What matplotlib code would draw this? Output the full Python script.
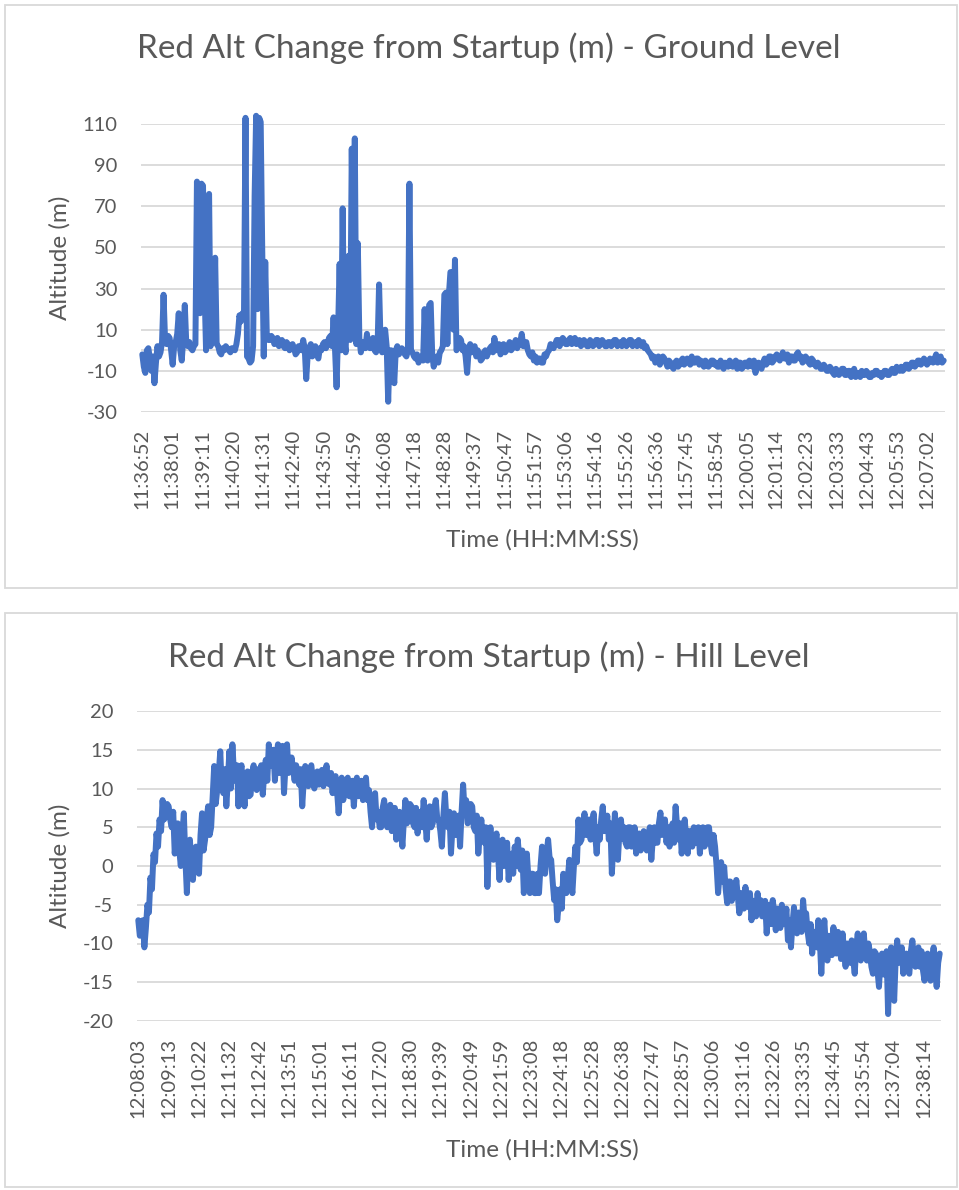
import matplotlib
matplotlib.use("Agg")
import matplotlib.pyplot as plt
import numpy as np
from matplotlib.patches import Rectangle

# Altitude readings sampled every 3.5 s
SAMPLE_STEP_S = 3.5

ground_title = "Red Alt Change from Startup (m) - Ground Level"
ground_start = "11:36:52"
ground_alt = [
    -2, -8, -11, 0, 1, -4, -10, -3, -16, -6,
    2, -3, -1, 4, 27, 5, 3, 7, 6, 0,
    -7, 2, 4, 8, 18, 0, -5, 6, 22, 3,
    2, 4, 1, 0, 2, 3, 82, 40, 18, 81,
    80, 30, 0, 70, 76, 2, 5, 6, 45, 3,
    2, -1, -2, 1, 0, 2, 1, 0, -1, 1,
    1, 0, 3, 8, 17, 14, 18, 18, 113, -3,
    -4, -6, -5, 2, 75, 114, 20, 113, 111, 50,
    -3, 43, 8, 5, 5, 7, 6, 3, 4, 6,
    2, 4, 5, 2, 1, 4, 3, 0, 1, 3,
    1, -2, -1, 2, 2, 0, 5, 1, -14, -2,
    1, 3, -3, 0, 2, -2, -4, 1, 0, 3,
    4, 1, 3, 6, 7, 2, 16, 0, -18, 10,
    42, 0, 69, 5, -1, 40, 46, 5, 98, 30,
    103, 3, 52, 6, -1, 3, 4, 1, 8, 2,
    1, 4, 6, 0, -1, 2, 32, 3, -1, 9,
    10, 2, -25, 0, 0, -5, -16, 0, 2, -2,
    -1, 1, 0, -2, -3, 0, 81, 0, -1, -3,
    -4, -2, -6, -4, -3, -5, 20, -4, -5, 22,
    23, -2, -8, -4, -3, -6, -1, 0, 2, 27,
    28, 3, 27, 38, 38, 10, 44, 0, 2, 6,
    5, 0, 2, -3, -11, 0, 3, -1, 0, 2,
    -3, 0, -2, -5, -4, -1, 0, -3, -1, 1,
    2, -1, 6, 0, 1, 3, -2, 0, 3, -1,
    0, 2, 4, 0, 1, 3, 5, 1, 3, 4,
    8, 2, 2, 4, 0, -2, -3, -1, -5, -3,
    -6, -4, -4, -6, -6, -2, -3, -1, 0, 3,
    2, 1, 3, 5, 5, 2, 4, 6, 5, 3,
    3, 5, 6, 3, 4, 6, 3, 4, 5, 2,
    3, 5, 4, 2, 2, 5, 4, 2, 3, 5,
    5, 2, 3, 5, 4, 2, 2, 4, 4, 2,
    3, 5, 5, 2, 3, 4, 2, 5, 4, 2,
    3, 5, 5, 2, 3, 4, 2, 5, 3, 2,
    4, 1, 2, 0, -1, -2, -4, -3, -6, -4,
    -3, -7, -5, -3, -4, -6, -8, -5, -6, -8,
    -9, -6, -5, -8, -7, -5, -4, -7, -6, -4,
    -5, -7, -3, -6, -6, -4, -4, -7, -5, -6,
    -8, -5, -6, -8, -7, -5, -5, -7, -6, -8,
    -8, -5, -7, -9, -6, -7, -8, -5, -6, -8,
    -7, -5, -9, -6, -6, -9, -8, -6, -6, -8,
    -5, -7, -8, -5, -11, -7, -6, -8, -9, -6,
    -4, -7, -6, -3, -3, -6, -5, -3, -2, -4,
    -5, -3, -1, -4, -4, -2, -6, -3, -3, -5,
    -5, -2, -1, -4, -3, -6, -5, -3, -4, -6,
    -7, -4, -5, -7, -8, -6, -7, -9, -9, -7,
    -8, -10, -10, -8, -9, -11, -12, -9, -10, -12,
    -11, -9, -9, -12, -12, -10, -10, -13, -11, -9,
    -13, -11, -11, -13, -10, -12, -12, -10, -11, -13,
    -13, -11, -12, -10, -10, -12, -11, -13, -12, -10,
    -10, -12, -12, -10, -9, -11, -11, -8, -9, -10,
    -8, -10, -9, -7, -7, -9, -8, -6, -6, -8,
    -7, -5, -5, -7, -6, -4, -5, -7, -6, -4,
    -5, -6, -4, -2, -6, -4, -3, -6, -5,
]
ground_ticks = [
    "11:36:52", "11:38:01", "11:39:11", "11:40:20", "11:41:31", "11:42:40",
    "11:43:50", "11:44:59", "11:46:08", "11:47:18", "11:48:28", "11:49:37",
    "11:50:47", "11:51:57", "11:53:06", "11:54:16", "11:55:26", "11:56:36",
    "11:57:45", "11:58:54", "12:00:05", "12:01:14", "12:02:23", "12:03:33",
    "12:04:43", "12:05:53", "12:07:02",
]
ground_yticks = [-30, -10, 10, 30, 50, 70, 90, 110]

hill_title = "Red Alt Change from Startup (m) - Hill Level"
hill_start = "12:08:03"
hill_alt = [
    -7, -9, -8.5, -7, -10.5, -8, -5, -6, -1.5, -3,
    1.5, 0.5, 4.2, 2.5, 6, 4.5, 8.5, 6, 6.5, 8,
    7.7, 6, 5, 7, 1.6, 4, 5.5, 2, 0, 4,
    6.8, 1, -3.5, 2, 3.4, 0, -1.8, 1.6, 2.5, -0.5,
    -1, 4, 6.8, 2, 3.4, 6, 7.7, 4, 5, 9,
    12.9, 8, 9.8, 12, 14.8, 10, 9.4, 12.5, 7.7, 11,
    14.8, 10, 15.7, 12, 11, 13, 7.7, 12, 13, 10,
    7.7, 11, 12.2, 9, 9.2, 12, 13, 10.5, 9.8, 12.5,
    11, 13, 9.2, 12, 13.7, 11, 15.7, 13, 12.9, 15,
    11, 14, 15.7, 12, 12.9, 15.5, 9.4, 13, 15.7, 12,
    12.4, 14, 12.4, 11, 13, 11.5, 10.5, 12.5, 7.7, 11,
    12.9, 11, 10.3, 12.5, 13, 11, 10, 12, 12.2, 10.5,
    11, 12.4, 10.3, 11.5, 13, 11, 10.5, 12, 9.4, 11.5,
    11.6, 9.5, 6.8, 10, 11.4, 8.5, 9.5, 11, 11.4, 9,
    9, 11, 7.7, 10.5, 11.4, 9, 9.5, 11, 8.5, 10,
    11.4, 8.5, 9.8, 7, 5, 8, 9.4, 6, 7, 5,
    5, 7.5, 8.5, 6, 5, 7, 7.9, 4.5, 6, 7.5,
    3.4, 6.5, 7, 5, 2.5, 6, 8.5, 5.5, 6, 8,
    7.7, 5.5, 5, 7.5, 4.2, 6, 7, 5, 8.5, 6,
    3.4, 6.5, 7.7, 5, 5.5, 7.5, 8.5, 6, 6, 4.5,
    2.5, 6.5, 9.4, 6, 5, 7, 1.6, 5, 6.8, 4,
    4, 6.5, 2.5, 7, 10.5, 7, 8.5, 5.5, 6, 8,
    7.7, 5, 4.5, 6.5, 1.6, 4, 6, 3.5, 3, 5,
    -2.7, 2, 5, 2, 0.8, 3, 4.2, 1.5, -1.8, 2,
    3.4, 0, 1, 3, -1.8, 1, 1.6, -1, 2.5, 0,
    3.4, 1, -0.5, 2, -3.5, 0, 1.6, -1.5, -3.5, -1,
    -1, -3.5, -3.5, -1, -3.5, 0, 2.5, 0, -1, 1.6,
    3.4, 1, 0.8, -2, -4.4, -3, -7, -5, -3, -5.5,
    -1, -3, -3.5, -1.5, 0.8, -2, -3.5, 0, 2.5, 0.5,
    6, 3, 3.4, 5.5, 6.8, 4, 4, 6, 3.4, 5.5,
    6.8, 4, 1.6, 5, 3.4, 6, 7.7, 4.5, 5, 6.5,
    3.4, 5.5, -1, 3, 6.8, 3.5, 0.8, 4.5, 6, 3.5,
    5, 3, 2.5, 5, 5, 2.5, 3, 5, 1.6, 3.5,
    4.2, 2, 2.5, 4.5, 4.2, 2, 3.5, 5, 0.8, 3.5,
    5, 3, 3, 5.5, 6.9, 4, 5, 6, 3, 5,
    2.5, 4.5, 5.5, 3, 7.7, 5, 3.4, 5.5, 1.6, 4,
    6, 3.5, 1.6, 4.5, 4.5, 2.5, 5, 3, 3, 5,
    1.6, 4.5, 5, 2.5, 3, 5, 5, 3, 1.6, 4,
    2.5, 0, -3.5, -1, 0.5, -2, -0.1, -3, -4.8, -2,
    -2, -4.5, -2.7, -4, -1.8, -4, -6.1, -3.5, -3.5, -5.5,
    -2.7, -4.5, -5.3, -3.5, -7, -4.5, -4.5, -6.5, -3.5, -5.5,
    -4.4, -6.5, -6, -4.5, -8.7, -5.5, -5, -7.5, -4.4, -6,
    -8.3, -5.5, -6, -8, -5, -6.5, -7.5, -5.5, -9.6, -7,
    -10.5, -7.5, -5.3, -8, -8.7, -6, -6.5, -8.5, -4.4, -7,
    -6.1, -8.5, -10, -7.5, -11.3, -8.5, -8.5, -10.5, -7, -9.5,
    -13.9, -9.5, -7, -10.5, -12.2, -9, -9.5, -11.5, -7.9, -10.5,
    -11.3, -8.5, -9.5, -12, -8.7, -11, -13, -10, -10.5, -12.5,
    -9.6, -12, -13.9, -10.5, -8.7, -11.5, -12.2, -10, -8.7, -11.5,
    -12.2, -10, -11, -13, -13.9, -11, -11.3, -13.5, -15.6, -12,
    -11.3, -14, -13, -11, -19.1, -12.5, -10.5, -14, -17.4, -12,
    -9.6, -12.5, -12.2, -10.5, -13.9, -11.5, -11.3, -13.5, -13.9, -11,
    -9.6, -12, -13, -11, -10.5, -13, -11, -13.5, -14.8, -12,
    -11.3, -13.5, -14.8, -12, -10.5, -13, -15.6, -12.5, -11.3,
]
hill_ticks = [
    "12:08:03", "12:09:13", "12:10:22", "12:11:32", "12:12:42", "12:13:51",
    "12:15:01", "12:16:11", "12:17:20", "12:18:30", "12:19:39", "12:20:49",
    "12:21:59", "12:23:08", "12:24:18", "12:25:28", "12:26:38", "12:27:47",
    "12:28:57", "12:30:06", "12:31:16", "12:32:26", "12:33:35", "12:34:45",
    "12:35:54", "12:37:04", "12:38:14",
]
hill_yticks = [-20, -15, -10, -5, 0, 5, 10, 15, 20]

LINE_COLOR = "#4472C4"
TEXT_COLOR = "#595959"
GRID_COLOR = "#D9D9D9"
FONT = ["Lato", "DejaVu Sans"]

W, H = 959, 1190
plt.rcParams["font.family"] = FONT


def to_seconds(hms):
    h, m, s = (int(p) for p in hms.split(":"))
    return h * 3600 + m * 60 + s


def fx(px):
    return px / W


def fy(py):
    return 1 - py / H


def draw_panel(fig, frame, axbox, title, title_y, start, alt, ticks, yticks,
               ylab_y, xlab_y, draw_zero):
    x0, y0, x1, y1 = frame
    fig.add_artist(Rectangle((fx(x0), fy(y1)), fx(x1 - x0), (y1 - y0) / H,
                             transform=fig.transFigure, fill=False,
                             ec=GRID_COLOR, lw=1.3))
    l, t, r, b = axbox
    ax = fig.add_axes([fx(l), fy(b), fx(r - l), (b - t) / H])

    t0 = to_seconds(start)
    secs = np.arange(len(alt)) * SAMPLE_STEP_S
    ax.plot(secs, alt, color=LINE_COLOR, lw=4.3, solid_joinstyle="round",
            solid_capstyle="round", clip_on=False, zorder=3)

    ax.set_xlim(-3, secs[-1] + 3)
    ax.set_ylim(yticks[0], yticks[-1])
    ax.set_yticks(yticks)
    ax.set_yticklabels([str(v) for v in yticks])
    ax.set_xticks([to_seconds(s) - t0 for s in ticks])
    ax.set_xticklabels(ticks, rotation=90, va="top", ha="center")
    ax.tick_params(axis="both", length=0, colors=TEXT_COLOR, labelsize=14.5)
    ax.tick_params(axis="y", pad=17)
    ax.tick_params(axis="x", pad=12)
    for sp in ax.spines.values():
        sp.set_visible(False)
    ax.grid(axis="y", color=GRID_COLOR, lw=1.3, zorder=0)
    ax.set_axisbelow(True)
    if draw_zero:
        ax.axhline(0, color=GRID_COLOR, lw=1.3, zorder=1)

    fig.text(fx(489), fy(title_y), title, ha="center", va="center",
             fontsize=24, color=TEXT_COLOR)
    fig.text(fx(60), fy(ylab_y), "Altitude (m)", rotation=90, ha="center",
             va="center", fontsize=17.5, color=TEXT_COLOR)
    fig.text(fx(542), fy(xlab_y), "Time (HH:MM:SS)", ha="center",
             va="center", fontsize=17.5, color=TEXT_COLOR)
    return ax


fig = plt.figure(figsize=(W / 100, H / 100), dpi=100)
fig.patch.set_facecolor("white")

draw_panel(fig, (5, 5, 957, 588), (141, 124, 945, 412), ground_title, 48,
           ground_start, ground_alt, ground_ticks, ground_yticks,
           258, 540, True)
draw_panel(fig, (5, 613, 957, 1187), (137, 711, 941, 1021), hill_title, 657,
           hill_start, hill_alt, hill_ticks, hill_yticks,
           866, 1150, False)

fig.savefig("out.png", dpi=100, facecolor="white")
